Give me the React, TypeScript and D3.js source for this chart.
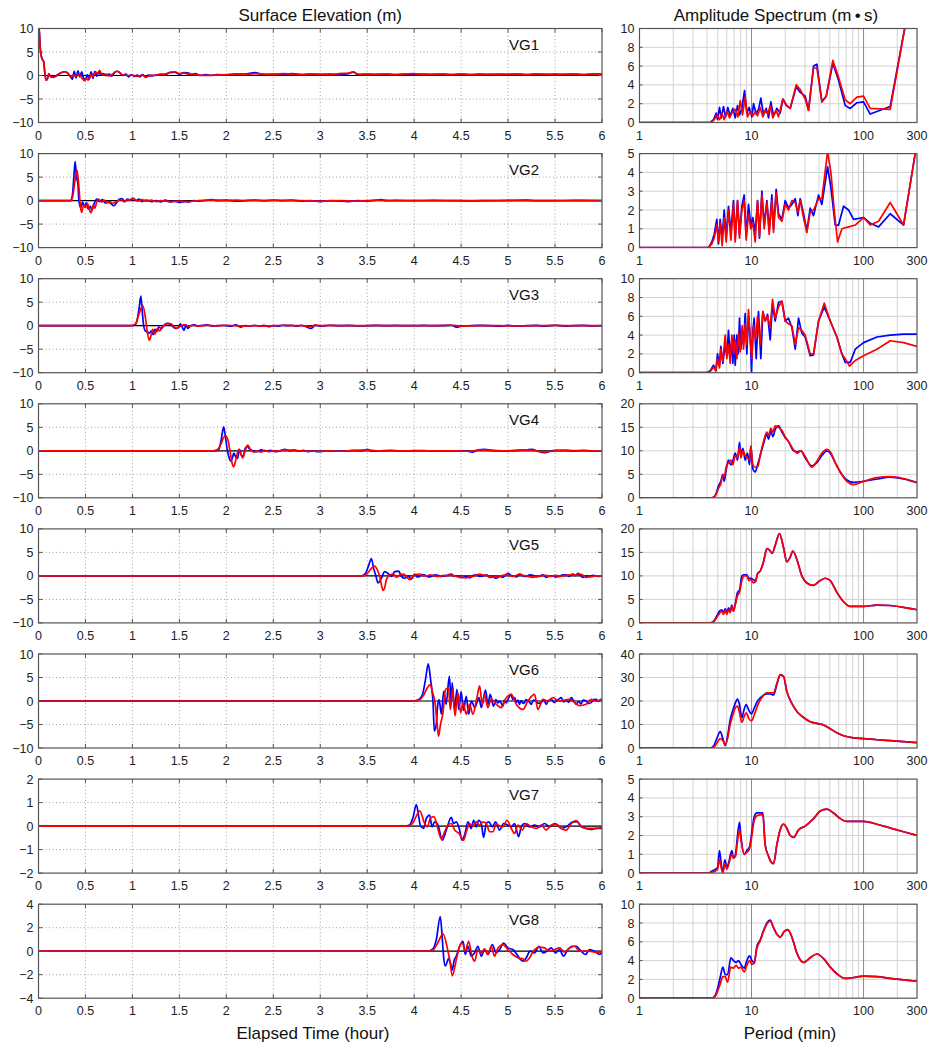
import React from 'react';
import * as d3 from 'd3';

type Pt = [number, number];

const gaugeNames = ['VG1', 'VG2', 'VG3', 'VG4', 'VG5', 'VG6', 'VG7', 'VG8'];
const timeTicks = [0, 0.5, 1, 1.5, 2, 2.5, 3, 3.5, 4, 4.5, 5, 5.5, 6];
const periodTicks = [1, 10, 100, 300];
const periodMinorGrid = [2, 3, 4, 5, 6, 7, 8, 9, 20, 30, 40, 50, 60, 70, 80, 90, 200];
const periodMajorGrid = [10, 100];
const elevationTicks = [
  [-10, -5, 0, 5, 10], [-10, -5, 0, 5, 10], [-10, -5, 0, 5, 10], [-10, -5, 0, 5, 10],
  [-10, -5, 0, 5, 10], [-10, -5, 0, 5, 10], [-2, -1, 0, 1, 2], [-4, -2, 0, 2, 4],
];
const spectrumTicks = [
  [0, 2, 4, 6, 8, 10], [0, 1, 2, 3, 4, 5], [0, 2, 4, 6, 8, 10], [0, 5, 10, 15, 20],
  [0, 5, 10, 15, 20], [0, 10, 20, 30, 40], [0, 1, 2, 3, 4, 5], [0, 2, 4, 6, 8, 10],
];

// ---- surface elevation (m) vs elapsed time (hour): blue / red ----
const vg1Blue: Pt[] = [[0,11],[0.01,9],[0.02,5.5],[0.03,4.2],[0.045,3.3],[0.055,3],[0.065,1],[0.08,-1],[0.095,-0.7],[0.11,0.3],[0.13,-0.3],[0.16,-0.3],[0.2,0.1],[0.24,0.6],[0.28,0.8],[0.31,0.5],[0.34,-0.2],[0.36,-0.8],[0.38,0.9],[0.4,-0.5],[0.42,1.0],[0.44,-0.3],[0.46,0.8],[0.48,-0.6],[0.5,-0.9],[0.52,0.2],[0.54,-0.8],[0.56,0.8],[0.58,-0.6],[0.6,0.9],[0.62,-0.2],[0.64,0.8],[0.66,0.2],[0.69,0.4],[0.72,0],[0.75,0.3],[0.78,-0.1],[0.81,0.6],[0.84,0.9],[0.87,0.5],[0.9,0],[0.93,0.3],[0.96,-0.3],[0.99,0.2],[1.02,-0.2],[1.05,0.1],[1.08,-0.3],[1.11,0.2],[1.14,-0.4],[1.17,0.1],[1.2,-0.1],[1.25,0.1],[1.3,0.2],[1.35,0.3],[1.4,0.6],[1.45,0.7],[1.5,0.3],[1.55,0.6],[1.6,0.5],[1.63,0.2],[1.67,0.4],[1.72,0],[1.78,0.2],[1.84,0],[1.9,0.2],[2.0,0.1],[2.1,0.3],[2.2,0.3],[2.3,0.6],[2.4,0.2],[2.5,0.3],[2.6,0.2],[2.7,0.4],[2.8,0.2],[2.9,0.3],[3.0,0.2],[3.1,0.3],[3.2,0.2],[3.3,0.4],[3.35,0.7],[3.4,0.2],[3.5,0.3],[3.6,0.2],[3.7,0.3],[3.8,0.2],[3.9,0.3],[4.0,0.2],[4.1,0.3],[4.2,0.2],[4.3,0.3],[4.4,0.2],[4.5,0.3],[4.6,0.2],[4.7,0.3],[4.8,0.2],[4.9,0.3],[5.0,0.2],[5.1,0.3],[5.2,0.2],[5.3,0.3],[5.4,0.2],[5.5,0.3],[5.6,0.2],[5.7,0.3],[5.8,0.2],[5.9,0.3],[6.0,0.3]];
const vg1Red: Pt[] = [[0,11],[0.01,9],[0.02,5.5],[0.03,4],[0.045,3.2],[0.055,3],[0.065,1],[0.08,-1],[0.095,-0.6],[0.11,0.4],[0.13,-0.2],[0.16,-0.4],[0.2,0],[0.24,0.6],[0.28,0.8],[0.31,0.6],[0.34,-0.3],[0.37,0.1],[0.4,-0.2],[0.43,0.3],[0.46,-0.5],[0.49,-1.1],[0.51,-0.6],[0.53,-1],[0.56,0.2],[0.58,-0.4],[0.61,0.8],[0.63,0.3],[0.65,1.1],[0.68,0.1],[0.72,0.3],[0.75,-0.1],[0.8,0.5],[0.83,0.9],[0.86,0.7],[0.9,0.1],[0.95,0],[1.0,0.1],[1.05,-0.2],[1.1,0.1],[1.15,-0.3],[1.2,0.1],[1.25,0],[1.3,0.3],[1.35,0.2],[1.4,0.7],[1.45,0.8],[1.5,0.4],[1.55,0.5],[1.6,0.3],[1.65,0.3],[1.7,0.1],[1.8,0],[1.9,0.1],[2.0,0.2],[2.1,0.3],[2.2,0.2],[2.3,0.4],[2.4,0.3],[2.5,0.2],[2.6,0.4],[2.7,0.3],[2.8,0.2],[2.9,0.3],[3.0,0.3],[3.1,0.2],[3.2,0.4],[3.3,0.5],[3.35,0.8],[3.4,0.3],[3.5,0.2],[3.6,0.3],[3.7,0.3],[3.8,0.2],[3.9,0.3],[4.0,0.4],[4.1,0.2],[4.2,0.3],[4.3,0.3],[4.4,0.2],[4.5,0.3],[4.6,0.2],[4.7,0.2],[4.8,0.3],[4.9,0.2],[5.0,0.3],[5.1,0.3],[5.2,0.2],[5.3,0.3],[5.4,0.3],[5.5,0.2],[5.6,0.3],[5.7,0.3],[5.8,0.2],[5.9,0.3],[6.0,0.3]];

const vg2Blue: Pt[] = [[0,0],[0.34,0],[0.36,1],[0.38,6],[0.39,8.3],[0.405,5],[0.42,3.5],[0.43,0],[0.45,-1.5],[0.47,-0.3],[0.49,-1.3],[0.51,-0.5],[0.53,-1.8],[0.55,-1.2],[0.57,-2],[0.59,-0.8],[0.62,0.3],[0.65,-0.2],[0.68,0.2],[0.71,-0.5],[0.74,-0.3],[0.77,-0.6],[0.8,-1.1],[0.83,-0.5],[0.86,0.3],[0.89,0.4],[0.92,-0.2],[0.95,0.3],[0.98,0.1],[1.01,0.5],[1.04,0],[1.07,0.3],[1.1,-0.2],[1.15,0.1],[1.2,-0.2],[1.25,0],[1.3,-0.3],[1.35,0.1],[1.4,-0.3],[1.45,-0.1],[1.5,-0.4],[1.55,-0.2],[1.6,-0.3],[1.65,0],[1.7,-0.1],[1.8,0.1],[1.85,0.2],[1.9,0],[2.0,0.1],[2.1,-0.1],[2.2,0],[2.3,0.1],[2.4,0],[2.5,0.1],[2.6,0],[2.7,0.1],[2.8,-0.1],[2.9,0],[3.0,-0.2],[3.1,0],[3.2,-0.1],[3.3,-0.2],[3.4,0],[3.5,-0.1],[3.6,0.1],[3.65,0.2],[3.7,0],[3.8,0.05],[4.0,0],[4.2,0.05],[4.4,0],[4.6,-0.05],[4.8,0],[5.0,0.05],[5.2,0.1],[5.3,0],[5.5,0],[5.7,0.05],[6.0,0]];
const vg2Red: Pt[] = [[0,0],[0.35,0],[0.37,1.5],[0.39,4.5],[0.41,6.5],[0.43,3],[0.445,-1],[0.46,-2.5],[0.48,-1],[0.5,-1.5],[0.52,-0.6],[0.54,-1.8],[0.56,-2.6],[0.58,-1],[0.6,-1.6],[0.62,-0.3],[0.64,0.3],[0.67,-0.3],[0.7,0.1],[0.73,-0.5],[0.76,-0.2],[0.79,-0.6],[0.82,-0.3],[0.85,0],[0.88,0.2],[0.91,-0.3],[0.94,0.2],[0.97,0.1],[1.0,0.5],[1.03,0.2],[1.06,-0.1],[1.1,0.2],[1.15,-0.1],[1.2,0.1],[1.25,-0.2],[1.3,0],[1.4,-0.2],[1.5,-0.1],[1.6,-0.2],[1.7,0],[1.8,0.1],[1.9,0.1],[2.0,0],[2.1,0.1],[2.2,0],[2.3,0.05],[2.4,0],[2.6,0.05],[2.8,0],[3.0,-0.1],[3.2,0],[3.4,-0.1],[3.6,0.1],[3.8,0],[4.0,0],[4.5,0],[5.0,0],[5.5,0],[6.0,0]];

const vg3Blue: Pt[] = [[0,0],[1.0,0],[1.04,0.5],[1.07,3.5],[1.09,6.3],[1.105,3],[1.12,0],[1.14,-1.2],[1.16,-1.3],[1.18,-1.6],[1.2,-1.1],[1.22,-1.9],[1.24,-0.8],[1.26,-1.2],[1.28,-0.3],[1.31,-0.6],[1.34,0.2],[1.37,0.5],[1.4,0.3],[1.43,-0.2],[1.46,-0.6],[1.49,-0.4],[1.51,0.4],[1.53,-0.3],[1.55,-1],[1.57,0.2],[1.59,-0.6],[1.62,0],[1.66,0.2],[1.7,-0.1],[1.75,0.1],[1.8,0.2],[1.85,-0.1],[1.9,0],[1.95,0.1],[2.0,0],[2.05,-0.1],[2.1,0.2],[2.15,-0.3],[2.2,0],[2.25,-0.1],[2.3,0.1],[2.35,-0.1],[2.4,0.1],[2.45,-0.2],[2.5,0],[2.55,-0.1],[2.6,0.1],[2.65,0],[2.7,0.1],[2.75,-0.1],[2.8,0.1],[2.85,-0.2],[2.9,-0.6],[2.95,0.1],[3.0,-0.1],[3.05,0],[3.1,0.1],[3.2,0],[3.3,0.05],[3.4,-0.05],[3.5,0],[3.6,0.05],[3.7,0],[3.8,0.05],[3.9,0],[4.0,0],[4.1,0.05],[4.2,0],[4.3,0],[4.4,0.1],[4.45,-0.3],[4.5,-0.1],[4.6,0],[4.7,0.05],[4.8,0],[4.9,-0.1],[5.0,0.05],[5.1,-0.1],[5.2,0],[5.3,0.05],[5.4,-0.1],[5.5,0.1],[5.6,-0.1],[5.7,0],[5.8,0.05],[5.9,-0.05],[6.0,0]];
const vg3Red: Pt[] = [[0,0],[0.98,0],[1.03,0.3],[1.07,2.5],[1.11,4.3],[1.14,1.5],[1.16,-1.5],[1.18,-3.1],[1.2,-2],[1.215,-0.8],[1.24,-1.8],[1.265,-0.6],[1.29,-1.1],[1.32,-0.2],[1.35,0.2],[1.38,0.5],[1.41,0.4],[1.44,-0.2],[1.47,-0.5],[1.5,-0.2],[1.55,0.2],[1.6,-0.1],[1.65,0.1],[1.7,-0.1],[1.8,0.1],[1.9,-0.1],[2.0,0.1],[2.1,0],[2.2,-0.1],[2.3,0],[2.4,-0.1],[2.5,0],[2.6,0.1],[2.7,0],[2.8,0],[2.9,-0.2],[2.95,0.2],[3.0,0],[3.1,0.05],[3.2,0],[3.4,0],[3.6,0.05],[3.8,0],[4.0,0],[4.2,0],[4.4,0.1],[4.5,-0.1],[4.7,0],[4.9,0],[5.1,-0.05],[5.3,0],[5.5,0.05],[5.7,0],[5.9,0],[6.0,0]];

const vg4Blue: Pt[] = [[0,0],[1.88,0],[1.92,0.3],[1.947,2.5],[1.971,5.1],[1.99,3],[2.01,0.2],[2.03,-1.5],[2.045,-2.2],[2.06,-1.8],[2.08,-0.5],[2.1,-1.3],[2.12,-1.6],[2.14,0.3],[2.16,-0.9],[2.18,-1.2],[2.2,0.5],[2.225,0.9],[2.25,0.3],[2.29,0],[2.33,-0.2],[2.37,0.2],[2.42,-0.1],[2.47,0.1],[2.52,-0.2],[2.57,0],[2.62,0.3],[2.67,0],[2.72,0.2],[2.77,-0.1],[2.82,0.1],[2.87,-0.2],[2.92,0],[2.97,-0.2],[3.05,-0.1],[3.15,0],[3.25,-0.1],[3.35,0.1],[3.45,0],[3.5,0.3],[3.55,-0.1],[3.65,0],[3.75,0.1],[3.85,0],[3.95,0],[4.05,0.05],[4.15,0],[4.25,0],[4.35,0],[4.45,0],[4.55,0],[4.62,-0.3],[4.68,0.2],[4.75,0.3],[4.82,0.1],[4.9,0],[5.0,0],[5.1,0.1],[5.2,0.2],[5.25,0.3],[5.32,-0.1],[5.38,-0.4],[5.45,-0.1],[5.5,0.1],[5.6,0.1],[5.7,0],[5.8,0.1],[5.9,0],[6.0,0]];
const vg4Red: Pt[] = [[0,0],[1.85,0],[1.9,0.2],[1.94,1.3],[1.97,2.8],[1.996,3.2],[2.02,2],[2.043,-0.5],[2.06,-2.5],[2.078,-3.4],[2.1,-2],[2.132,0.3],[2.15,-0.5],[2.174,-1.5],[2.203,0.2],[2.228,1.2],[2.256,0.3],[2.292,-0.3],[2.33,0],[2.37,-0.3],[2.41,0.1],[2.45,-0.2],[2.5,0],[2.55,-0.1],[2.6,0.2],[2.7,0.1],[2.8,0],[2.9,-0.1],[3.0,-0.1],[3.1,0],[3.2,-0.1],[3.3,0],[3.4,0.1],[3.5,0.2],[3.6,0],[3.8,0],[4.0,0],[4.2,0],[4.4,0],[4.6,-0.1],[4.7,0.2],[4.8,0.1],[5.0,0],[5.2,0.2],[5.3,0],[5.38,-0.3],[5.45,-0.1],[5.6,0.1],[5.8,0],[6.0,0]];

const vg5Blue: Pt[] = [[0,0],[3.438,0],[3.48,0.5],[3.52,2.5],[3.544,3.7],[3.57,1.5],[3.59,0.2],[3.615,-1.5],[3.651,-0.5],[3.686,0.9],[3.722,0.5],[3.757,-0.1],[3.793,0.9],[3.835,1.0],[3.864,-0.1],[3.899,-0.5],[3.935,0],[3.97,-0.7],[4.005,0.4],[4.03,-0.2],[4.059,-0.1],[4.085,0.3],[4.112,0.2],[4.15,-0.2],[4.183,-0.1],[4.22,0.2],[4.254,0.1],[4.29,-0.1],[4.325,0],[4.36,0.2],[4.395,0.4],[4.42,0],[4.449,0],[4.49,-0.3],[4.52,-0.3],[4.56,-0.1],[4.591,-0.4],[4.63,0.1],[4.661,0.2],[4.7,-0.1],[4.732,0],[4.77,0.2],[4.803,-0.3],[4.84,-0.2],[4.874,-0.5],[4.91,-0.1],[4.945,-0.3],[4.97,0.1],[4.998,0.55],[5.03,0.1],[5.051,0],[5.09,-0.2],[5.122,0.4],[5.16,0],[5.193,-0.1],[5.23,0.2],[5.264,0.1],[5.3,-0.2],[5.335,0],[5.37,0.2],[5.406,-0.3],[5.44,0],[5.477,0],[5.51,-0.2],[5.548,-0.1],[5.58,0.2],[5.619,0.2],[5.65,-0.1],[5.69,0.4],[5.72,0.1],[5.743,0.55],[5.77,0.1],[5.796,-0.3],[5.83,0],[5.867,-0.1],[5.9,0.1],[5.938,0],[5.97,-0.1],[6.0,0]];
const vg5Red: Pt[] = [[0,0],[3.456,0],[3.5,0.5],[3.54,1.5],[3.58,2.1],[3.61,1.2],[3.633,-0.1],[3.65,-1.8],[3.669,-3.1],[3.69,-2.2],[3.704,-0.8],[3.74,0.2],[3.782,0.4],[3.81,-0.3],[3.846,0.2],[3.888,0.4],[3.924,-0.3],[3.952,-0.8],[3.98,-0.3],[4.005,0.2],[4.059,0.4],[4.1,0],[4.13,0],[4.17,0.2],[4.2,0.1],[4.24,-0.1],[4.271,-0.1],[4.31,0.1],[4.342,0],[4.38,0.2],[4.413,0.1],[4.45,-0.1],[4.484,-0.3],[4.52,-0.3],[4.555,-0.4],[4.59,-0.2],[4.626,-0.1],[4.66,0.1],[4.697,0.4],[4.73,0.2],[4.768,0.1],[4.8,-0.2],[4.839,-0.3],[4.87,-0.1],[4.91,-0.1],[4.945,0.1],[4.98,0.2],[5.02,0],[5.051,-0.1],[5.09,0.1],[5.122,0.4],[5.16,0.1],[5.193,0],[5.23,-0.2],[5.264,-0.3],[5.3,-0.1],[5.335,-0.1],[5.37,0.1],[5.406,0.1],[5.44,-0.1],[5.477,0],[5.51,0.1],[5.548,-0.1],[5.58,0],[5.619,0.1],[5.65,0.2],[5.69,0.3],[5.72,0.1],[5.761,0.4],[5.8,0.1],[5.832,-0.3],[5.87,-0.2],[5.903,-0.1],[5.95,0],[6.0,0]];

const vg6Blue: Pt[] = [[0,0],[4.0,0],[4.05,0.3],[4.09,1.5],[4.12,4.5],[4.15,7.9],[4.175,4.5],[4.2,0],[4.215,-6.4],[4.235,-5],[4.25,-1],[4.265,0.3],[4.29,-2.8],[4.315,2.1],[4.34,-0.7],[4.375,5.3],[4.395,-0.7],[4.405,3.9],[4.43,-2],[4.455,2.5],[4.475,-1.8],[4.5,2],[4.525,-2],[4.555,1],[4.58,-2.8],[4.61,0],[4.645,-1.4],[4.69,0.7],[4.715,-1.4],[4.76,2.3],[4.785,-0.7],[4.81,1.4],[4.845,-1.1],[4.87,0.3],[4.89,-0.4],[4.91,0],[4.93,-0.6],[4.945,-1.1],[4.96,0.2],[4.98,-0.4],[5.005,0.6],[5.033,1.4],[5.05,0.3],[5.069,0.7],[5.09,-0.3],[5.105,0.2],[5.122,-0.7],[5.14,0.1],[5.16,-0.5],[5.175,-0.35],[5.19,0.3],[5.211,0],[5.23,-0.3],[5.246,-0.7],[5.27,0.2],[5.3,0],[5.32,-0.5],[5.353,-0.35],[5.38,0.3],[5.406,-0.7],[5.43,0.1],[5.46,0.35],[5.49,-0.3],[5.512,0],[5.54,0.4],[5.566,0.7],[5.59,-0.2],[5.619,0.15],[5.645,-0.3],[5.672,0.7],[5.7,0],[5.725,-0.7],[5.75,-0.1],[5.778,-0.6],[5.8,0.2],[5.831,0],[5.86,-0.5],[5.885,-0.35],[5.91,0.3],[5.938,0.35],[5.96,-0.1],[5.99,0.35],[6.0,0.2]];
const vg6Red: Pt[] = [[0,0],[4.0,0],[4.06,0.3],[4.1,1.2],[4.14,2.8],[4.17,3.5],[4.2,1.5],[4.22,0],[4.245,-5],[4.26,-7.5],[4.28,-5],[4.305,-2.8],[4.335,2.5],[4.365,2.8],[4.385,-1.8],[4.41,2.5],[4.435,-3.2],[4.465,1.8],[4.495,-2.5],[4.52,-0.4],[4.555,-2.8],[4.59,-0.7],[4.625,-2.8],[4.668,0.7],[4.697,3.2],[4.725,-0.7],[4.75,1.4],[4.785,-1.4],[4.82,0.4],[4.875,-0.7],[4.927,-1.4],[4.98,0.7],[5.033,1.4],[5.087,-0.7],[5.157,-1.8],[5.211,0],[5.282,1.4],[5.317,-1.8],[5.37,0.35],[5.424,0],[5.477,0.7],[5.547,0],[5.6,0.2],[5.654,0.35],[5.71,-0.3],[5.76,-1],[5.831,-0.7],[5.885,0.35],[5.938,0],[6.0,0.35]];

const vg7Blue: Pt[] = [[0,0],[3.9,0],[3.95,0.05],[3.99,0.4],[4.023,0.92],[4.045,0.5],[4.066,0.03],[4.1,-0.1],[4.13,0.33],[4.165,0.47],[4.19,-0.03],[4.218,0.18],[4.254,0.04],[4.3,-0.6],[4.342,-0.17],[4.395,0.37],[4.42,0.11],[4.449,0.18],[4.484,-0.17],[4.509,-0.6],[4.537,-0.38],[4.573,0.18],[4.608,-0.1],[4.633,0.25],[4.661,-0.03],[4.686,0.25],[4.715,0.11],[4.739,-0.48],[4.768,0.11],[4.796,0.18],[4.832,-0.03],[4.867,0.18],[4.91,-0.17],[4.952,0.11],[4.998,0.04],[5.034,-0.03],[5.069,0.11],[5.112,-0.45],[5.14,-0.03],[5.176,0.11],[5.229,-0.03],[5.282,0.04],[5.335,-0.03],[5.388,0.11],[5.442,-0.03],[5.495,0.11],[5.53,0.04],[5.566,-0.1],[5.619,-0.03],[5.69,0.18],[5.736,0.18],[5.778,-0.03],[5.832,-0.1],[5.885,-0.14],[5.938,-0.1],[6.0,-0.1]];
const vg7Red: Pt[] = [[0,0],[3.93,0],[3.98,0.1],[4.02,0.4],[4.059,0.65],[4.112,0.11],[4.14,-0.03],[4.172,0.33],[4.211,0.4],[4.247,-0.03],[4.289,-0.55],[4.325,-0.24],[4.36,0.04],[4.395,0.11],[4.431,-0.17],[4.477,-0.31],[4.527,-0.6],[4.555,-0.24],[4.591,0.11],[4.626,0],[4.661,0.18],[4.697,0.04],[4.732,0.18],[4.768,0.11],[4.803,-0.24],[4.839,-0.24],[4.874,0.11],[4.91,0],[4.945,-0.03],[4.988,0.25],[5.034,-0.1],[5.069,-0.31],[5.105,0.04],[5.151,-0.17],[5.193,0.11],[5.246,-0.03],[5.3,-0.1],[5.353,0.04],[5.406,-0.17],[5.459,0.04],[5.512,0.08],[5.566,-0.1],[5.619,-0.17],[5.672,0.11],[5.725,0.23],[5.778,0],[5.832,-0.1],[5.885,-0.1],[5.938,-0.1],[6.0,-0.03]];

const vg8Blue: Pt[] = [[0,0],[4.15,0],[4.2,0.2],[4.236,1.0],[4.278,2.94],[4.3,1.0],[4.315,-0.6],[4.332,-1.26],[4.367,-0.64],[4.385,-0.98],[4.406,-1.6],[4.425,-0.8],[4.449,-0.42],[4.484,0.42],[4.52,0.84],[4.544,-0.28],[4.573,0.42],[4.608,-0.42],[4.644,-0.14],[4.679,0.42],[4.715,-0.42],[4.75,0.14],[4.786,-0.28],[4.832,0.56],[4.874,-0.14],[4.91,0.14],[4.952,0.7],[4.998,0.28],[5.051,0.14],[5.094,-0.28],[5.13,-0.7],[5.165,-0.84],[5.193,-0.56],[5.236,0],[5.282,-0.14],[5.328,0.42],[5.37,-0.14],[5.413,0],[5.459,0.28],[5.505,-0.14],[5.548,0.14],[5.59,-0.42],[5.637,0.14],[5.683,0.42],[5.725,0.42],[5.778,0],[5.825,-0.28],[5.867,0.14],[5.92,0],[5.973,-0.28],[6.0,-0.1]];
const vg8Red: Pt[] = [[0,0],[4.15,0],[4.2,0.1],[4.25,0.7],[4.307,1.48],[4.36,0],[4.38,-0.8],[4.406,-2.1],[4.449,-0.7],[4.484,0.42],[4.512,0.7],[4.544,0],[4.58,0.84],[4.615,-0.42],[4.644,-0.84],[4.679,0.14],[4.715,-0.14],[4.75,0.2],[4.786,-0.28],[4.821,0.42],[4.856,-0.42],[4.892,0.28],[4.945,0.56],[4.998,0.14],[5.051,-0.28],[5.105,-0.56],[5.158,-0.64],[5.193,-0.84],[5.229,-0.56],[5.282,0.14],[5.335,0.34],[5.388,0.28],[5.442,0],[5.495,0.14],[5.548,0.28],[5.601,-0.08],[5.654,0.28],[5.707,0.42],[5.761,0],[5.814,0],[5.867,0],[5.92,-0.08],[6.0,-0.14]];

// ---- amplitude spectrum (m·s) vs period (min): blue / red ----
const vg1SpecBlue: Pt[] = [[1,0],[4.27,0],[4.58,0.3],[4.84,1.0],[4.97,0.3],[5.18,1.6],[5.36,0.5],[5.62,1.7],[5.86,0.6],[6.15,1.6],[6.45,0.7],[6.81,1.5],[7.15,0.5],[7.5,1.8],[7.81,0.8],[8.2,1.5],[8.66,3.4],[9.08,1.0],[9.53,1.6],[10.07,0.6],[10.42,2.0],[11.01,0.9],[11.62,1.5],[12.11,2.6],[12.8,0.8],[13.52,1.5],[14.19,0.5],[14.88,2.2],[15.71,0.7],[16.83,1.5],[18.03,1.0],[19.05,2.5],[20.68,1.8],[22.14,1.5],[25.05,3.8],[27.21,3.2],[30.13,2.8],[32.27,1.3],[35.78,6.0],[38.32,6.2],[42.48,2.2],[46.43,2.8],[53.22,6.3],[59.83,4.5],[68.62,1.8],[76.05,1.5],[87.2,2.1],[100,2.2],[114.7,0.9],[173,1.7],[250,12]];
const vg1SpecRed: Pt[] = [[1,0],[4.27,0],[4.58,0.2],[4.9,0.8],[5.18,0.3],[5.43,1.0],[5.7,0.3],[6.02,1.2],[6.36,0.5],[6.67,1.0],[7.15,1.4],[7.55,0.6],[7.92,2.3],[8.31,0.8],[8.78,2.7],[9.21,0.6],[9.73,1.2],[10.28,0.7],[10.78,1.1],[11.32,0.7],[11.95,1.6],[12.62,0.6],[13.24,1.3],[13.99,0.9],[14.68,1.8],[15.5,0.5],[16.6,1.3],[17.42,0.6],[19.05,2.5],[20.4,1.8],[22.14,1.5],[25.05,4.0],[27.21,3.5],[30.13,2.5],[32.27,1.3],[35.78,5.8],[38.32,5.8],[42.48,2.2],[46.43,2.8],[53.22,6.6],[59.83,4.8],[68.62,2.4],[76.05,2.0],[87.2,2.7],[100,2.8],[114.7,1.5],[173,1.4],[250,12]];

const vg2SpecBlue: Pt[] = [[1,0],[4.13,0],[4.42,0.3],[4.64,0.7],[4.9,1.5],[5.07,0.2],[5.25,1.5],[5.47,0.5],[5.7,2.0],[5.94,0.6],[6.23,2.2],[6.54,0.8],[6.9,2.5],[7.15,0.5],[7.5,2.5],[7.81,0.7],[8.2,2.2],[8.6,2.8],[8.96,0.6],[9.4,2.3],[9.86,1.2],[10.28,1.6],[10.78,0.8],[11.32,2.5],[11.78,0.5],[12.37,3.0],[12.97,1.2],[13.71,2.5],[14.38,0.9],[15.19,2.8],[15.71,1.0],[16.6,3.1],[17.42,1.8],[18.66,1.5],[19.98,2.5],[21.39,2.1],[22.92,2.3],[24.55,2.6],[25.93,1.7],[27.21,2.6],[29.11,1.8],[31.18,0.9],[33.4,2.1],[35.78,1.7],[39.66,2.8],[42.48,2.3],[47.72,4.3],[51.1,3.2],[55.86,1.2],[59.83,1.2],[66.3,2.2],[73.48,2.0],[81.44,1.5],[100,1.6],[114.7,1.3],[136.2,1.1],[173,1.8],[227.6,1.2],[289,5],[300,5.4]];
const vg2SpecRed: Pt[] = [[1,0],[4.13,0],[4.42,0.2],[4.64,0.5],[4.9,1.2],[5.07,0.3],[5.25,1.3],[5.47,0.1],[5.7,1.6],[5.94,0.3],[6.23,2.0],[6.54,0.4],[6.9,2.3],[7.15,0.3],[7.5,2.5],[7.81,0.5],[8.2,2.0],[8.6,2.5],[8.96,0.4],[9.4,1.8],[9.86,1.0],[10.28,1.3],[10.78,0.3],[11.32,2.5],[11.78,0.6],[12.37,2.8],[12.97,1.0],[13.71,2.4],[14.38,0.7],[15.19,2.5],[15.71,0.8],[16.6,2.9],[17.42,1.6],[18.66,1.4],[19.98,2.3],[21.39,2.0],[22.92,2.5],[24.55,2.4],[25.93,1.9],[27.21,2.5],[29.11,1.6],[31.18,0.8],[33.4,1.9],[35.78,2.0],[39.66,2.6],[42.48,2.6],[47.72,5.1],[51.1,4.0],[54.71,2.0],[58.6,0.3],[64.08,1.0],[73.48,1.1],[84.28,1.2],[100,1.6],[114.7,1.2],[136.2,1.4],[173,2.4],[227.6,1.2],[289,5],[300,5.4]];

const vg3SpecBlue: Pt[] = [[1,0],[3.99,0],[4.27,0.2],[4.58,0.8],[4.8,0.2],[4.97,2.0],[5.18,0.8],[5.32,2.8],[5.55,1.0],[5.82,3.0],[6.02,1.8],[6.23,4.5],[6.45,1.5],[6.67,3.5],[6.81,1.0],[7.0,4.0],[7.15,0.8],[7.4,4.0],[7.6,2.0],[7.81,5.8],[8.03,2.5],[8.25,4.5],[8.48,3.0],[8.78,6.3],[9.08,2.0],[9.4,6.0],[9.73,4.0],[10.0,0.0],[10.28,4.5],[10.56,5.8],[11.01,1.5],[11.54,6.5],[12.11,1.5],[12.62,6.5],[13.24,5.5],[13.9,6.2],[14.68,3.5],[15.4,7.3],[16.26,5.5],[17.42,7.5],[18.66,7.6],[19.98,5.5],[21.39,5.8],[22.92,4.8],[24.55,2.5],[26.29,5.8],[28.13,4.2],[30.13,3.8],[33.4,1.8],[35.78,1.9],[39.66,5.5],[44.56,7.0],[50.41,5.5],[57.81,3.8],[64.08,2.0],[68.62,1.1],[76.05,1.1],[84.28,2.5],[100,3.2],[131.6,3.8],[173,4.0],[227.6,4.1],[300,4.1]];
const vg3SpecRed: Pt[] = [[1,0],[3.99,0],[4.27,0.1],[4.58,0.6],[4.8,0.2],[4.97,1.5],[5.18,0.5],[5.32,2.5],[5.55,1.2],[5.82,4.0],[6.02,1.5],[6.23,3.0],[6.45,1.0],[6.67,4.0],[6.9,2.0],[7.15,3.5],[7.4,1.5],[7.65,4.2],[7.92,2.2],[8.25,5.0],[8.48,2.5],[8.78,5.2],[9.08,3.0],[9.4,6.7],[9.73,3.5],[10.07,1.5],[10.42,5.0],[10.85,3.5],[11.32,6.0],[11.95,3.0],[12.62,6.5],[13.24,5.5],[13.9,6.0],[14.68,4.8],[15.4,7.8],[16.26,5.8],[17.42,7.0],[18.66,7.6],[19.98,5.5],[21.39,5.2],[22.92,5.0],[24.55,3.0],[26.29,4.8],[28.13,4.5],[30.13,4.0],[33.4,2.0],[35.78,2.0],[39.66,5.5],[44.56,7.4],[50.41,5.5],[57.81,3.8],[64.08,2.0],[71.0,1.2],[75.0,0.7],[84.28,1.3],[100,1.8],[131.6,2.5],[173,3.4],[227.6,3.2],[300,2.8]];

const vg4SpecBlue: Pt[] = [[1,0],[4.42,0],[4.74,0.5],[5.07,2.5],[5.32,3.5],[5.55,5.0],[5.7,3.5],[5.94,6.0],[6.23,8.0],[6.54,7.0],[6.81,7.8],[7.15,9.5],[7.5,8.0],[7.81,11.8],[8.03,9.0],[8.37,10.5],[8.78,8.0],[9.21,9.5],[9.6,7.0],[9.86,11.0],[10.28,6.2],[10.78,5.5],[11.32,7.0],[11.95,9.0],[12.8,11.5],[13.71,13.5],[14.19,12.5],[14.88,14.2],[15.5,13.0],[16.26,14.5],[17.42,15.3],[18.66,14.0],[19.98,12.8],[21.39,12.0],[23.72,10.0],[25.75,9.8],[27.55,10.0],[30.13,8.5],[34.57,6.8],[38.32,7.5],[42.48,9.0],[47.07,10.0],[50.41,9.5],[55.86,7.5],[61.92,5.5],[71.0,3.8],[81.44,3.3],[100,3.5],[131.6,4.0],[173,4.4],[227.6,4.0],[300,3.2]];
const vg4SpecRed: Pt[] = [[1,0],[4.42,0],[4.74,0.4],[5.07,2.0],[5.32,3.0],[5.55,4.8],[5.7,4.5],[5.94,6.5],[6.23,7.5],[6.54,8.0],[6.81,7.0],[7.15,9.0],[7.5,8.5],[7.81,10.8],[8.03,8.5],[8.37,10.0],[8.78,9.0],[9.21,8.5],[9.6,8.0],[9.86,11.0],[10.28,7.0],[10.78,6.5],[11.32,6.5],[11.95,9.0],[12.8,12.0],[13.71,14.0],[14.19,13.2],[14.88,14.8],[15.5,14.0],[16.26,15.3],[17.42,15.0],[18.66,14.3],[19.98,13.0],[21.39,12.0],[23.72,10.2],[25.75,9.5],[27.55,10.0],[30.13,8.8],[34.57,6.5],[38.32,7.8],[42.48,9.5],[47.07,10.3],[50.41,9.8],[55.86,7.5],[61.92,5.5],[71.0,3.5],[81.44,2.8],[100,3.5],[131.6,4.3],[173,4.5],[227.6,4.1],[300,3.3]];

// long-period part where both VG5 curves coincide
const vg5SpecShared: Pt[] = [[10.85,8.8],[11.32,10.5],[11.95,11.0],[12.8,13.0],[13.71,15.8],[14.48,15.5],[15.3,14.8],[16.26,16.5],[17.78,19.0],[19.31,16.0],[20.68,13.0],[22.14,14.0],[23.39,15.3],[25.4,13.5],[28.13,10.0],[31.18,8.5],[35.78,8.0],[41.04,9.0],[45.51,9.5],[50.41,9.0],[57.81,6.5],[66.3,4.5],[76.05,3.5],[100,3.5],[131.6,3.8],[173,3.7],[227.6,3.3],[300,2.8]];
const vg5SpecBlueShort: Pt[] = [[1,0],[4.27,0],[4.58,0.3],[4.9,1.5],[5.18,2.5],[5.43,2.8],[5.62,2.2],[5.82,3.0],[6.02,2.2],[6.23,3.2],[6.45,2.5],[6.67,3.8],[6.9,2.5],[7.15,4.0],[7.5,6.5],[7.81,7.0],[8.2,10.0],[8.6,10.2],[9.08,10.2],[9.47,9.5],[9.86,9.5],[10.42,9.2]];
const vg5SpecRedShort: Pt[] = [[1,0],[4.27,0],[4.58,0.2],[4.9,1.2],[5.18,2.0],[5.43,2.5],[5.62,1.8],[5.82,2.6],[6.02,1.8],[6.23,2.8],[6.45,2.2],[6.67,3.5],[6.9,2.5],[7.15,3.8],[7.5,5.8],[7.81,6.5],[8.2,9.0],[8.6,10.0],[9.08,10.0],[9.47,9.0],[9.86,9.2],[10.42,8.5]];

const vg6SpecShared: Pt[] = [[19.31,30.5],[20.68,24.0],[22.92,19.0],[25.4,15.5],[29.11,13.0],[33.4,11.2],[38.32,10.5],[43.97,9.8],[50.41,8.2],[57.81,6.5],[66.3,5.2],[81.44,4.3],[100,4.0],[131.6,3.5],[173,3.1],[227.6,2.7],[300,2.3]];
const vg6SpecBlueShort: Pt[] = [[1,0],[4.27,0],[4.58,0.8],[4.9,4.0],[5.25,7.0],[5.55,4.0],[5.82,1.0],[6.11,5.0],[6.45,12.0],[6.81,16.0],[7.15,19.0],[7.5,20.8],[7.81,18.5],[8.2,13.0],[8.6,16.5],[8.96,18.5],[9.47,16.0],[10.0,14.5],[10.56,17.0],[11.32,20.0],[12.37,22.0],[13.71,23.0],[14.68,23.0],[15.71,22.5],[16.83,27.0],[18.03,31.0]];
const vg6SpecRedShort: Pt[] = [[1,0],[4.27,0],[4.58,0.3],[4.9,2.0],[5.25,4.0],[5.55,3.2],[5.82,1.5],[6.11,4.0],[6.45,10.0],[6.81,14.0],[7.15,17.0],[7.5,17.8],[7.81,15.0],[8.2,11.0],[8.6,13.5],[8.96,15.0],[9.47,12.5],[10.0,11.5],[10.56,14.0],[11.32,18.0],[12.37,21.5],[13.71,23.5],[14.68,23.5],[15.71,23.5],[16.83,27.5],[18.03,31.2]];

const vg7SpecShared: Pt[] = [[13.24,1.5],[14.19,0.9],[14.88,0.6],[15.71,0.5],[16.83,1.5],[18.03,2.3],[19.31,2.6],[20.4,2.45],[22.14,2.0],[23.72,1.9],[26.29,2.3],[30.13,2.5],[35.78,2.9],[41.04,3.3],[47.07,3.4],[53.97,3.2],[61.92,2.9],[71.0,2.75],[100,2.75],[131.6,2.6],[173,2.4],[227.6,2.2],[300,2.0]];
const vg7SpecBlueShort: Pt[] = [[1,0],[4.13,0],[4.42,0.1],[4.74,0.2],[4.97,0.3],[5.18,1.2],[5.36,0.5],[5.55,0.05],[5.78,0.7],[6.02,0.3],[6.28,0.6],[6.67,1.2],[6.9,0.8],[7.2,1.0],[7.5,2.0],[7.81,2.7],[8.03,2.0],[8.6,1.0],[9.08,1.2],[9.6,1.4],[10.07,2.2],[10.56,3.0],[11.16,3.2],[11.95,3.2],[12.62,3.2]];
const vg7SpecRedShort: Pt[] = [[1,0],[4.13,0],[4.42,0.05],[4.74,0.1],[4.97,0.2],[5.18,0.7],[5.36,0.3],[5.55,0.0],[5.78,0.5],[6.02,0.2],[6.28,0.5],[6.67,1.0],[6.9,0.8],[7.2,0.9],[7.5,1.7],[7.81,2.3],[8.03,1.8],[8.6,1.0],[9.08,1.1],[9.6,1.3],[10.07,2.0],[10.56,2.8],[11.16,3.05],[11.95,3.1],[12.62,3.1]];

const vg8SpecShared: Pt[] = [[15.71,7.5],[16.83,6.8],[18.03,6.5],[19.58,7.1],[21.1,7.3],[22.92,6.5],[25.4,4.8],[29.11,3.8],[33.4,4.3],[38.32,4.7],[43.97,4.2],[50.41,3.3],[57.81,2.6],[68.62,2.1],[81.44,2.2],[100,2.35],[131.6,2.3],[173,2.1],[227.6,1.95],[300,1.8]];
const vg8SpecBlueShort: Pt[] = [[1,0],[4.42,0],[4.74,0.3],[4.97,1.0],[5.25,2.2],[5.55,3.3],[5.82,2.5],[6.11,2.5],[6.54,4.3],[6.9,4.0],[7.3,3.8],[7.65,4.0],[8.03,3.6],[8.6,3.2],[9.08,4.0],[9.6,4.5],[10.07,4.0],[10.56,3.8],[11.16,5.5],[11.95,6.2],[12.8,7.2],[13.71,8.0],[14.68,8.3]];
const vg8SpecRedShort: Pt[] = [[1,0],[4.42,0],[4.74,0.2],[4.97,0.7],[5.25,1.5],[5.55,2.3],[5.82,2.3],[6.11,1.7],[6.54,3.3],[6.9,3.2],[7.3,3.5],[7.65,3.2],[8.03,3.3],[8.6,2.8],[9.08,3.5],[9.6,4.0],[10.07,3.6],[10.56,3.7],[11.16,5.3],[11.95,6.1],[12.8,7.1],[13.71,7.9],[14.68,8.2]];

const elevationBlue = [vg1Blue, vg2Blue, vg3Blue, vg4Blue, vg5Blue, vg6Blue, vg7Blue, vg8Blue];
const elevationRed = [vg1Red, vg2Red, vg3Red, vg4Red, vg5Red, vg6Red, vg7Red, vg8Red];
const spectrumBlue = [
  vg1SpecBlue, vg2SpecBlue, vg3SpecBlue, vg4SpecBlue,
  [...vg5SpecBlueShort, ...vg5SpecShared], [...vg6SpecBlueShort, ...vg6SpecShared],
  [...vg7SpecBlueShort, ...vg7SpecShared], [...vg8SpecBlueShort, ...vg8SpecShared],
];
const spectrumRed = [
  vg1SpecRed, vg2SpecRed, vg3SpecRed, vg4SpecRed,
  [...vg5SpecRedShort, ...vg5SpecShared], [...vg6SpecRedShort, ...vg6SpecShared],
  [...vg7SpecRedShort, ...vg7SpecShared], [...vg8SpecRedShort, ...vg8SpecShared],
];

const W = 934;
const H = 1047;
const leftX = [38.5, 602];
const rightX = [639.5, 917];
const top0 = 28.5;
const rowStep = 125.1;
const panelH = 94;
const font = '"Liberation Sans", Arial, Helvetica, sans-serif';
const frameColor = '#555';

const fmtTick = (v: number) => (v < 0 ? '\u2212' + Math.abs(v) : String(v));

function ElevationPanel({ i }: { i: number }) {
  const y0 = top0 + i * rowStep;
  const ticks = elevationTicks[i];
  const x = d3.scaleLinear().domain([0, 6]).range(leftX);
  const y = d3.scaleLinear().domain([ticks[0], ticks[ticks.length - 1]]).range([y0 + panelH, y0]);
  const line = d3.line<Pt>().x(d => x(d[0])).y(d => y(d[1])).curve(d3.curveMonotoneX);
  const clipId = `clip-elev-${i}`;
  return (
    <g>
      <defs>
        <clipPath id={clipId}>
          <rect x={leftX[0]} y={y0} width={leftX[1] - leftX[0]} height={panelH} />
        </clipPath>
      </defs>
      {timeTicks.slice(1, -1).map(t => (
        <line key={'gx' + t} x1={x(t)} x2={x(t)} y1={y0} y2={y0 + panelH}
          stroke="#8a8a8a" strokeWidth={0.8} strokeDasharray="1,2.5" />
      ))}
      {ticks.slice(1, -1).map(v => (
        <line key={'gy' + v} x1={leftX[0]} x2={leftX[1]} y1={y(v)} y2={y(v)}
          stroke="#8a8a8a" strokeWidth={0.8} strokeDasharray="1,2.5" />
      ))}
      <g clipPath={`url(#${clipId})`}>
        <line x1={x(0)} x2={x(6)} y1={y(0)} y2={y(0)} stroke="#000" strokeWidth={1.2} />
        <path d={line(elevationBlue[i]) || ''} fill="none" stroke="#0000ff" strokeWidth={1.7} strokeLinejoin="round" />
        <path d={line(elevationRed[i]) || ''} fill="none" stroke="#ff0000" strokeWidth={1.7} strokeLinejoin="round" />
      </g>
      {timeTicks.map(t => (
        <g key={'tx' + t}>
          <line x1={x(t)} x2={x(t)} y1={y0 + panelH} y2={y0 + panelH - 4} stroke={frameColor} />
          <line x1={x(t)} x2={x(t)} y1={y0} y2={y0 + 4} stroke={frameColor} />
          <text x={x(t)} y={y0 + panelH + 17} textAnchor="middle" fontSize={12.5} fill="#222">{t}</text>
        </g>
      ))}
      {ticks.map(v => (
        <g key={'ty' + v}>
          <line x1={leftX[0]} x2={leftX[0] + 4} y1={y(v)} y2={y(v)} stroke={frameColor} />
          <line x1={leftX[1]} x2={leftX[1] - 4} y1={y(v)} y2={y(v)} stroke={frameColor} />
          <text x={leftX[0] - 5} y={y(v) + 4.5} textAnchor="end" fontSize={12.5} fill="#222">{fmtTick(v)}</text>
        </g>
      ))}
      <rect x={leftX[0]} y={y0} width={leftX[1] - leftX[0]} height={panelH} fill="none" stroke={frameColor} strokeWidth={1.2} />
      <text x={509} y={y0 + 21} fontSize={15} fill="#111">{gaugeNames[i]}</text>
    </g>
  );
}

function SpectrumPanel({ i }: { i: number }) {
  const y0 = top0 + i * rowStep;
  const ticks = spectrumTicks[i];
  const x = d3.scaleLog().domain([1, 300]).range(rightX);
  const y = d3.scaleLinear().domain([0, ticks[ticks.length - 1]]).range([y0 + panelH, y0]);
  const line = d3.line<Pt>().x(d => x(d[0])).y(d => y(d[1]))
    .curve(i < 3 ? d3.curveLinear : d3.curveMonotoneX);
  const clipId = `clip-spec-${i}`;
  return (
    <g>
      <defs>
        <clipPath id={clipId}>
          <rect x={rightX[0]} y={y0} width={rightX[1] - rightX[0]} height={panelH} />
        </clipPath>
      </defs>
      {periodMinorGrid.map(p => (
        <line key={'gm' + p} x1={x(p)} x2={x(p)} y1={y0} y2={y0 + panelH} stroke="#d2d2d2" strokeWidth={1} />
      ))}
      {ticks.slice(1, -1).map(v => (
        <line key={'gy' + v} x1={rightX[0]} x2={rightX[1]} y1={y(v)} y2={y(v)} stroke="#d2d2d2" strokeWidth={1} />
      ))}
      {periodMajorGrid.map(p => (
        <line key={'gM' + p} x1={x(p)} x2={x(p)} y1={y0} y2={y0 + panelH} stroke="#8c8c8c" strokeWidth={1} />
      ))}
      <g clipPath={`url(#${clipId})`}>
        <path d={line(spectrumBlue[i]) || ''} fill="none" stroke="#0000ff" strokeWidth={1.7} strokeLinejoin="round" />
        <path d={line(spectrumRed[i]) || ''} fill="none" stroke="#ff0000" strokeWidth={1.7} strokeLinejoin="round" />
      </g>
      {periodTicks.map(p => (
        <text key={'tx' + p} x={x(p)} y={y0 + panelH + 17} textAnchor="middle" fontSize={12.5} fill="#222">{p}</text>
      ))}
      {ticks.map(v => (
        <g key={'ty' + v}>
          <line x1={rightX[0]} x2={rightX[0] + 3} y1={y(v)} y2={y(v)} stroke={frameColor} />
          <text x={rightX[0] - 5} y={y(v) + 4.5} textAnchor="end" fontSize={12.5} fill="#222">{v}</text>
        </g>
      ))}
      <rect x={rightX[0]} y={y0} width={rightX[1] - rightX[0]} height={panelH} fill="none" stroke={frameColor} strokeWidth={1.2} />
    </g>
  );
}

export default function App() {
  return (
    <svg width={W} height={H} viewBox={`0 0 ${W} ${H}`}
      style={{ position: 'absolute', left: 0, top: 0, background: '#fff', fontFamily: font }}>
      <rect x={0} y={0} width={W} height={H} fill="#fff" />
      <text x={(leftX[0] + leftX[1]) / 2} y={21} textAnchor="middle" fontSize={17} fill="#111">Surface Elevation (m)</text>
      <text x={776} y={21} textAnchor="middle" fontSize={17} fill="#111">Amplitude Spectrum (m{'\u2009\u2022\u2009'}s)</text>
      {gaugeNames.map((_, i) => <ElevationPanel key={'e' + i} i={i} />)}
      {gaugeNames.map((_, i) => <SpectrumPanel key={'s' + i} i={i} />)}
      <text x={313} y={1039} textAnchor="middle" fontSize={17} fill="#111">Elapsed Time (hour)</text>
      <text x={790} y={1039} textAnchor="middle" fontSize={17} fill="#111">Period (min)</text>
    </svg>
  );
}
